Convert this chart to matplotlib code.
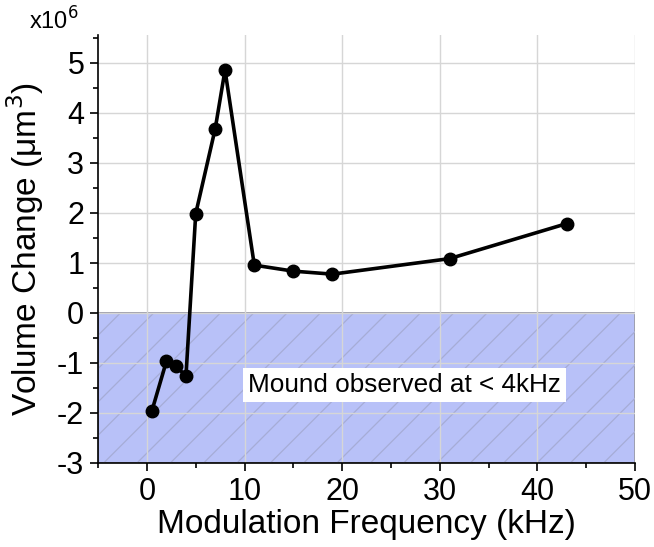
import numpy as np
import matplotlib.pyplot as plt
from matplotlib.patches import Rectangle
from matplotlib.ticker import MultipleLocator

plt.rcParams['font.family'] = ['Liberation Sans', 'DejaVu Sans']
plt.rcParams['axes.unicode_minus'] = False
plt.rcParams['hatch.linewidth'] = 0.9

# ---------------------------------  data  ---------------------------------
freq_khz = [0.5, 2, 3, 4, 5, 7, 8, 11, 15, 19, 31, 43]
vol_change = [-1.97, -0.97, -1.07, -1.27, 1.98, 3.68, 4.85, 0.95, 0.83, 0.77, 1.08, 1.78]  # x10^6 um^3

x_ticks = [0, 10, 20, 30, 40, 50]
y_ticks = [-3, -2, -1, 0, 1, 2, 3, 4, 5]

# ---------------------------------  plot  ---------------------------------
fig = plt.figure(figsize=(6.54, 5.47), dpi=100)
ax = fig.add_axes([0.15, 0.154, 0.821, 0.782])

ax.set_xlim(-5, 50)
ax.set_ylim(-3, 5.55)

# shaded region: mound observed
ax.add_patch(Rectangle((-5, -3), 55, 3, facecolor='#b8c1f8', edgecolor='#8a8a9a',
                       linewidth=1.2, zorder=0.2))
ax.add_patch(Rectangle((-5, -3), 55, 3, facecolor='none', edgecolor='#a6acd6',
                       hatch='/', linewidth=0, zorder=0.3))

ax.grid(True, color='#d6d6d6', linewidth=1)
ax.set_axisbelow(True)

ax.plot(freq_khz, vol_change, color='black', linewidth=2.6, marker='o',
        markersize=9, zorder=3)

ax.text(26.4, -1.45, 'Mound observed at < 4kHz', fontsize=18.8, ha='center', va='center',
        bbox=dict(facecolor='white', edgecolor='none', pad=3.5), zorder=4)

ax.set_xticks(x_ticks)
ax.set_yticks(y_ticks)
ax.xaxis.set_minor_locator(MultipleLocator(5))
ax.yaxis.set_minor_locator(MultipleLocator(0.5))
ax.tick_params(which='major', direction='out', length=6, width=1.2, labelsize=22, pad=4)
ax.tick_params(which='minor', direction='out', length=3.5, width=1.2)

for s in ['top', 'right']:
    ax.spines[s].set_visible(False)
for s in ['left', 'bottom']:
    ax.spines[s].set_linewidth(1.2)

ax.set_xlabel('Modulation Frequency (kHz)', fontsize=24, labelpad=2)
ax.set_ylabel('Volume Change (\u03bcm$^3$)', fontsize=24, labelpad=8)

fig.text(0.045, 0.945, 'x10$^6$', fontsize=17)

fig.savefig('out.png', dpi=100)
